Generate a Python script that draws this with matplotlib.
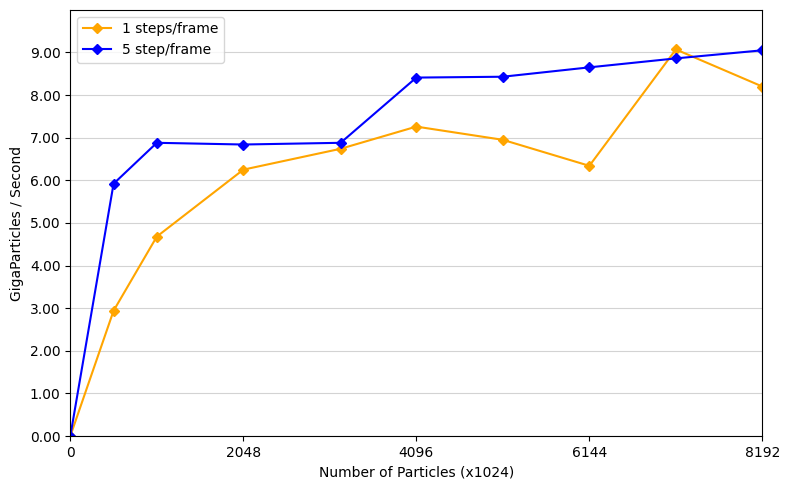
import matplotlib
matplotlib.use("Agg")
import matplotlib.pyplot as plt

particles = [0, 512, 1024, 2048, 3200, 4096, 5120, 6144, 7168, 8192]
one_step = [0.0, 2.94, 4.68, 6.25, 6.74, 7.26, 6.95, 6.34, 9.07, 8.20]
five_step = [0.0, 5.92, 6.88, 6.84, 6.88, 8.41, 8.43, 8.65, 8.86, 9.05]
xticks = [0, 2048, 4096, 6144, 8192]
yticks = [0, 1, 2, 3, 4, 5, 6, 7, 8, 9]

fig, ax = plt.subplots(figsize=(7.9, 4.9), dpi=100)
ax.plot(particles, one_step, color="orange", marker="D", markersize=5, label="1 steps/frame")
ax.plot(particles, five_step, color="blue", marker="D", markersize=5, label="5 step/frame")
ax.set_xlim(0, 8192)
ax.set_ylim(0, 10)
ax.set_xticks(xticks)
ax.set_yticks(yticks)
ax.set_yticklabels(["%.2f" % v for v in yticks])
ax.yaxis.grid(True, color="#d3d3d3")
ax.set_axisbelow(True)
ax.set_xlabel("Number of Particles (x1024)")
ax.set_ylabel("GigaParticles / Second")
ax.legend(loc="upper left")
fig.subplots_adjust(left=0.089, right=0.965, top=0.98, bottom=0.11)
fig.savefig("out.png")
